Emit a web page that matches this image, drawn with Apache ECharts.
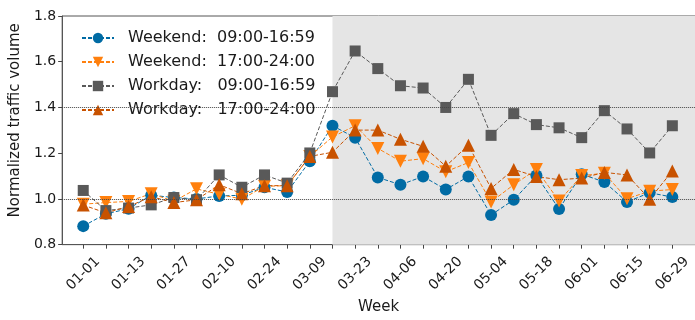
<!DOCTYPE html>
<html><head><meta charset="utf-8">
<script src="https://cdn.jsdelivr.net/npm/echarts@6/dist/echarts.min.js"></script>
<style>html,body{margin:0;padding:0;background:#fff}#c{width:695px;height:320px}</style>
</head><body><div id="c"></div>
<script>
var weeks = ['01-01','01-06','01-13','01-20','01-27','02-03','02-10','02-17','02-24','03-02','03-09','03-16','03-23','03-30','04-06','04-13','04-20','04-27','05-04','05-11','05-18','05-25','06-01','06-08','06-15','06-22','06-29'];
var weekendDay = [0.881,0.935,0.957,1.016,1.006,1.000,1.013,1.016,1.051,1.030,1.165,1.320,1.268,1.094,1.062,1.098,1.041,1.098,0.930,0.996,1.102,0.956,1.108,1.074,0.987,1.027,1.008];
var weekendEve = [0.977,0.984,0.989,1.023,0.990,1.044,1.020,0.999,1.055,1.058,1.186,1.271,1.320,1.221,1.165,1.176,1.119,1.159,0.987,1.062,1.129,0.991,1.102,1.112,1.001,1.034,1.041];
var workdayDay = [1.037,0.949,0.960,0.974,1.006,0.996,1.105,1.051,1.105,1.069,1.201,1.469,1.647,1.570,1.495,1.485,1.400,1.523,1.278,1.373,1.325,1.311,1.268,1.386,1.306,1.201,1.320];
var workdayEve = [0.973,0.939,0.967,1.010,0.984,0.996,1.062,1.023,1.058,1.058,1.186,1.204,1.301,1.301,1.261,1.230,1.143,1.235,1.046,1.129,1.098,1.084,1.091,1.116,1.105,0.999,1.122];
var seriesNames = ['Weekend:  09:00-16:59','Weekend:  17:00-24:00','Workday:   09:00-16:59','Workday:   17:00-24:00'];
var yTicks = [0.8,1.0,1.2,1.4,1.6,1.8];
var refLines = [1.0,1.4];
var shadeStart = 11;

var FONT = 'DejaVu Sans';
function pairs(a){return a.map(function(v,i){return [i,v];});}
var tickIdx = weeks.map(function(_,i){return i;});
var labelIdx = tickIdx.filter(function(i){return i%2===0;});
var downTri = 'path://M0,0 L10,0 L5,8.66 Z';
var upTri = 'path://M5,0 L10,8.66 L0,8.66 Z';
function mk(name,data,color,symbol,size){
  return {type:'line',name:name,data:pairs(data),symbol:symbol,symbolSize:size,
    lineStyle:{color:color,width:1,type:[4,2]},itemStyle:{color:color},
    showSymbol:true,animation:false};
}
var s0 = mk(seriesNames[0],weekendDay,'#006BA4','circle',12);
s0.markArea = {silent:true,itemStyle:{color:'#E5E5E5'},data:[[{xAxis:shadeStart},{xAxis:27}]]};
s0.markLine = {silent:true,symbol:['none','none'],label:{show:false},
  lineStyle:{type:'dotted',color:'#444',width:1},data:refLines.map(function(v){return {yAxis:v};})};
var chart = echarts.init(document.getElementById('c'));
chart.setOption({
  animation:false,
  grid:{left:62,right:-8,top:16,bottom:70,show:true,borderColor:'#555',borderWidth:1},
  legend:{orient:'vertical',left:76,top:25,itemGap:8,itemWidth:32,itemHeight:13,
    textStyle:{fontFamily:FONT,fontSize:16,color:'#1a1a1a',padding:[0,0,0,9]},
    data:seriesNames},
  xAxis:{type:'value',min:-0.93,max:27,name:'Week',nameLocation:'middle',nameGap:53,
    nameTextStyle:{fontFamily:FONT,fontSize:15,color:'#1a1a1a'},
    axisLine:{show:true,onZero:false,lineStyle:{color:'#555'}},
    axisTick:{show:true,length:4,customValues:tickIdx,lineStyle:{color:'#444'}},
    axisLabel:{customValues:labelIdx,rotate:45,align:'center',verticalAlign:'middle',margin:29,
      fontFamily:FONT,fontSize:14,color:'#1a1a1a',formatter:function(v){return weeks[Math.round(v)];}},
    splitLine:{show:false}},
  yAxis:{type:'value',min:0.8,max:1.8,interval:0.2,name:'Normalized traffic volume',nameLocation:'middle',nameGap:37,
    nameTextStyle:{fontFamily:FONT,fontSize:15,color:'#1a1a1a',padding:[0,0,0,20]},
    axisLine:{show:true,onZero:false,lineStyle:{color:'#555'}},
    axisTick:{show:true,length:4,lineStyle:{color:'#444'}},
    axisLabel:{fontFamily:FONT,fontSize:14,color:'#1a1a1a',margin:6,formatter:function(v){return v.toFixed(1);}},
    splitLine:{show:false}},
  series:[s0,
    mk(seriesNames[1],weekendEve,'#FF800E',downTri,13),
    mk(seriesNames[2],workdayDay,'#595959','rect',11),
    mk(seriesNames[3],workdayEve,'#C85200',upTri,13)]
});
</script></body></html>
